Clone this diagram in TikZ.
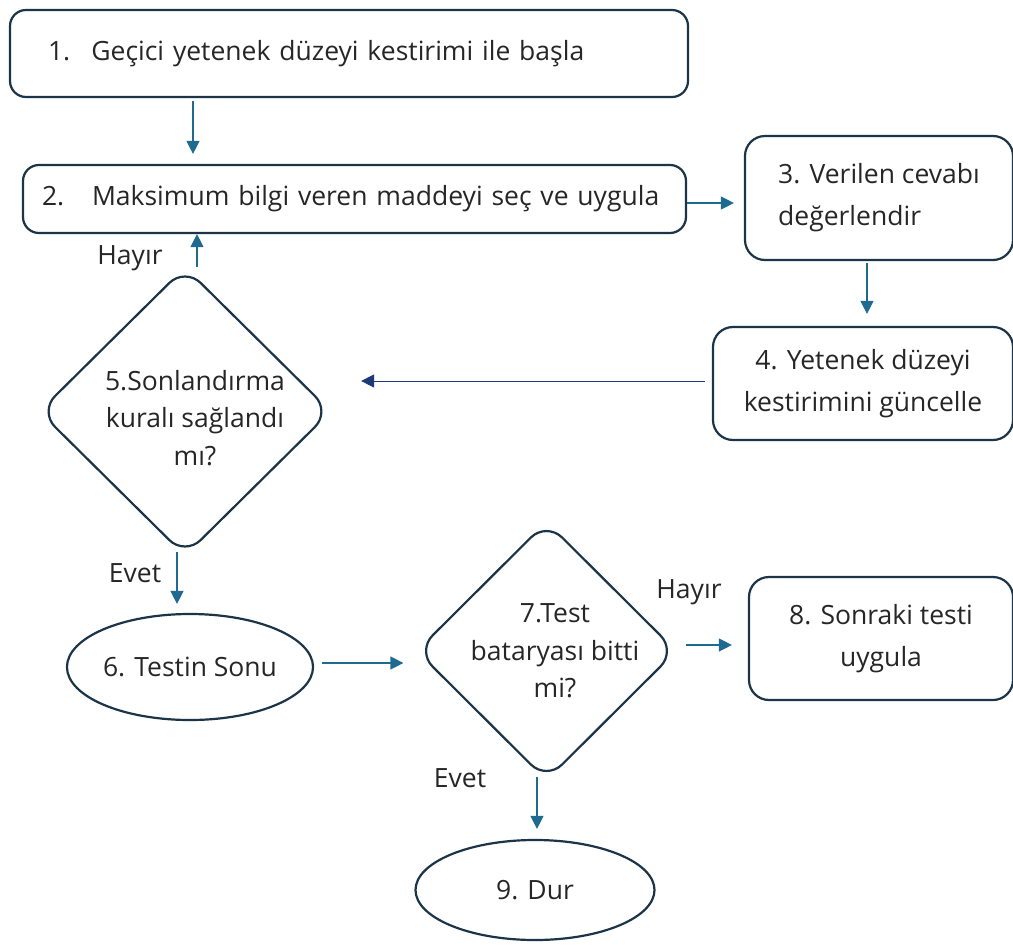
\documentclass[tikz,border=0pt]{standalone}
\usepackage{fontspec}
\setmainfont{Open Sans}
\usetikzlibrary{shapes.geometric,arrows.meta}
\definecolor{border}{HTML}{1B3447}
\definecolor{arrowc}{HTML}{1F6A90}
\definecolor{navyc}{HTML}{1D3A78}
\begin{document}
\begin{tikzpicture}[x=1pt,y=-1pt,
  txt/.style={font=\fontsize{26.5}{42}\selectfont, text=black!85},
  dtxt/.style={font=\fontsize{26.5}{37.5}\selectfont, text=black!85},
  box/.style={txt, draw=border, line width=2.2pt, rounded corners=16pt, inner sep=0pt},
  dec/.style={draw=border, line width=2.2pt, shape=diamond, rounded corners=22pt, inner sep=0pt},
  term/.style={txt, draw=border, line width=2.2pt, shape=ellipse, inner sep=0pt},
  arr/.style={draw=arrowc, line width=1.3pt, -{Triangle[length=13pt,width=13pt]}},
  lbl/.style={txt}
]
\useasboundingbox (0,0) rectangle (1013,945);

\node[box, minimum width=678, minimum height=87, text width=602, align=left] (b1) at (349,53.5)
  {1.\hspace{0.8em}Geçici yetenek düzeyi kestirimi ile başla};
\node[box, minimum width=663, minimum height=68, text width=625, align=left] (b2) at (354.5,199)
  {2.\hspace{1.05em}Maksimum bilgi veren maddeyi seç ve uygula};
\node[box, minimum width=268, minimum height=124, align=left, rounded corners=20pt] (b3) at (879,198)
  {3. Verilen cevabı\\değerlendir};
\node[box, minimum width=300, minimum height=113, align=center, rounded corners=20pt] (b4) at (863,383.5)
  {4. Yetenek düzeyi\\kestirimini güncelle};
\node[dec, minimum width=292, minimum height=289] (d5) at (185,411.5) {};
\node[dtxt, align=center] (t5) at (195,418) {5.Sonlandırma\\kuralı sağlandı\\mı?};
\node[term, minimum width=240, minimum height=106] (e6) at (190,667) {6. Testin Sonu};
\node[dec, minimum width=260, minimum height=259] (d7) at (546.5,651) {};
\node[dtxt, align=center] (t7) at (555,651) {7.Test\\bataryası bitti\\mi?};
\node[box, minimum width=264, minimum height=123, align=center, rounded corners=20pt] (b8) at (881,638.5)
  {8. Sonraki testi\\uygula};
\node[term, minimum width=239, minimum height=100] (e9) at (535,890) {9. Dur};

\coordinate (x12) at (193,0);
\coordinate (y23) at (0,203);
\coordinate (x34) at (867,0);
\coordinate (y45) at (0,381);
\coordinate (x52) at (197,0);
\coordinate (x56) at (177,0);
\coordinate (y67) at (0,663);
\coordinate (y78) at (0,645);
\coordinate (x79) at (537,0);

\draw[arr, shorten <=3pt, shorten >=10pt] (b1.south -| x12) -- (b2.north -| x12);
\draw[arr, shorten >=10pt] (b2.east |- y23) -- (b3.west |- y23);
\draw[arr, shorten <=2pt, shorten >=12pt] (b3.south -| x34) -- (b4.north -| x34);
\draw[arr, draw=navyc, line width=1pt, shorten <=7pt, shorten >=29pt] (b4.west |- y45) -- (d5.east |- y45);
\draw[arr, shorten <=-1pt] (d5.north -| x52) -- (b2.south -| x52);
\draw[arr, shorten <=-5pt, shorten >=9pt] (d5.south -| x56) -- (e6.north -| x56);
\draw[arr, shorten <=8pt, shorten >=12pt] (e6.east |- y67) -- (d7.west |- y67);
\draw[arr, shorten <=8pt, shorten >=16pt] (d7.east |- y78) -- (b8.west |- y78);
\draw[arr, shorten <=-5pt, shorten >=10pt] (d7.south -| x79) -- (e9.north -| x79);

\node[lbl] (l1) at (130,258) {Hayır};
\node[lbl] (l2) at (135,573) {Evet};
\node[lbl] (l3) at (689,592) {Hayır};
\node[lbl] (l4) at (460,778) {Evet};
\end{tikzpicture}
\end{document}
